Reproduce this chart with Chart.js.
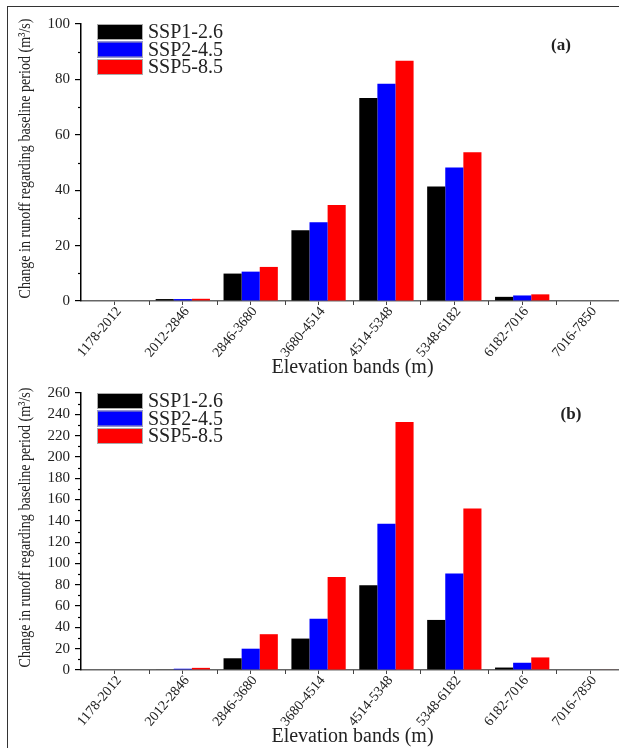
<!DOCTYPE html>
<html>
<head>
<meta charset="utf-8">
<script src="https://cdn.jsdelivr.net/npm/chart.js@4.4.1/dist/chart.umd.min.js"></script>
<style>
  html, body { margin: 0; padding: 0; background: #fff; }
  #page { position: relative; width: 619px; height: 748px; overflow: hidden; background: #fff; }
  #frame { position: absolute; left: 7px; top: 6px; width: 640px; height: 760px;
           border-top: 1.5px solid #333; border-left: 1.5px solid #333; }
  canvas { position: absolute; left: 0; }
  #panelA { top: 0; }
  #panelB { top: 369px; }
</style>
</head>
<body>
<div id="page">
  <div id="frame"></div>
  <canvas id="panelA" width="624" height="378"></canvas>
  <canvas id="panelB" width="624" height="379"></canvas>
</div>
<script>
// Elevation bands (m)
const bands = ['1178-2012', '2012-2846', '2846-3680', '3680-4514',
               '4514-5348', '5348-6182', '6182-7016', '7016-7850'];
const scenarios = ['SSP1-2.6', 'SSP2-4.5', 'SSP5-8.5'];
const scenarioColors = ['#000000', '#0000ff', '#ff0000'];

// (a) change in runoff vs. baseline (m3/s)
const ssp126A = [0, 0.7, 9.9, 25.5, 73.3, 41.3, 1.5, 0];
const ssp245A = [0, 0.7, 10.6, 28.4, 78.4, 48.2, 2.0, 0];
const ssp585A = [0, 0.8, 12.3, 34.7, 86.7, 53.7, 2.4, 0];

// (b) change in runoff vs. baseline (m3/s)
const ssp126B = [0, 0.5, 11.0, 29.5, 79.5, 47.0, 2.3, 0];
const ssp245B = [0, 1.2, 20.0, 48.2, 137.2, 90.5, 6.8, 0];
const ssp585B = [0, 2.0, 33.6, 87.3, 232.8, 151.6, 11.8, 0.6];

// y-axis ranges
const yMaxA = 100, yMaxB = 260, yStep = 20, yMinorStep = 10;

const yTitle = 'Change in runoff regarding baseline period (m\u00B3/s)';
const xTitle = 'Elevation bands (m)';
const SERIF = '"Liberation Serif", "Times New Roman", serif';
const LABEL_ANGLE = 50; // degrees, slanted band labels

// Draws slanted band labels, minor ticks, axis titles, the panel tag and the legend
const panelDecor = {
  id: 'panelDecor',
  afterDraw(chart, args, opts) {
    const { ctx, chartArea: ca, scales: { x, y } } = chart;
    ctx.save();

    // minor y ticks
    ctx.strokeStyle = '#000';
    ctx.lineWidth = 1.2;
    for (let v = yMinorStep; v < y.max; v += yStep) {
      const py = Math.round(y.getPixelForValue(v)) + 0.5;
      ctx.beginPath(); ctx.moveTo(ca.left - 3, py); ctx.lineTo(ca.left, py); ctx.stroke();
    }

    // x ticks at band boundaries
    const half = (x.getPixelForValue(1) - x.getPixelForValue(0)) / 2;
    ctx.strokeStyle = '#444';
    ctx.lineWidth = 1;
    for (let i = 1; i < bands.length; i++) {
      const px = Math.round(x.getPixelForValue(i) - half) + 0.5;
      ctx.beginPath(); ctx.moveTo(px, ca.bottom); ctx.lineTo(px, ca.bottom + 4); ctx.stroke();
    }

    // slanted band labels, ending just below each tick
    ctx.fillStyle = '#222';
    ctx.font = '14px ' + SERIF;
    ctx.textAlign = 'right';
    ctx.textBaseline = 'middle';
    chart.data.labels.forEach((lab, i) => {
      const px = x.getPixelForValue(i);
      ctx.save();
      ctx.translate(px + 4, ca.bottom + 8);
      ctx.rotate(-LABEL_ANGLE * Math.PI / 180);
      ctx.fillText(lab, 0, 0);
      ctx.restore();
    });

    // y title (slightly condensed serif)
    ctx.font = '17px ' + SERIF;
    ctx.textAlign = 'center';
    ctx.save();
    ctx.translate(26, (ca.top + ca.bottom) / 2 - 4);
    ctx.rotate(-Math.PI / 2);
    const w = ctx.measureText(yTitle).width;
    ctx.scale(Math.min(1, 280 / w), 1);
    ctx.fillText(yTitle, 0, 0);
    ctx.restore();

    // x title
    ctx.font = '20px ' + SERIF;
    ctx.fillText(xTitle, (ca.left + ca.right) / 2, 368);

    // panel tag
    ctx.font = 'bold 17px ' + SERIF;
    ctx.fillText(opts.tag, opts.tagX, ca.top + 22);

    // legend
    const ds = chart.data.datasets;
    ctx.font = '20px ' + SERIF;
    ctx.textAlign = 'left';
    for (let i = 0; i < ds.length; i++) {
      const by = ca.top + i * 17.5;
      ctx.fillStyle = ds[i].backgroundColor;
      ctx.fillRect(97, by, 46, 16);
      ctx.strokeStyle = '#aaa';
      ctx.lineWidth = 1;
      ctx.strokeRect(97.5, by + 0.5, 45, 15);
      ctx.fillStyle = '#222';
      ctx.fillText(ds[i].label, 148, by + 9);
    }
    ctx.restore();
  }
};

function makePanel(id, series, yMax, tag, tagX) {
  const canvas = document.getElementById(id);
  return new Chart(canvas, {
    type: 'bar',
    data: {
      labels: bands,
      datasets: series.map((vals, i) => ({
        label: scenarios[i],
        data: vals,
        backgroundColor: scenarioColors[i],
        borderWidth: 0,
        categoryPercentage: 0.8,
        barPercentage: 1.0
      }))
    },
    options: {
      responsive: false,
      animation: false,
      devicePixelRatio: 1,
      layout: { padding: { top: 24, left: 0, right: 0, bottom: 0 } },
      plugins: {
        legend: { display: false },
        tooltip: { enabled: false },
        panelDecor: { tag, tagX }
      },
      scales: {
        x: {
          offset: true,
          afterFit(scale) { scale.height = canvas.height - 24 - 277; },
          grid: { display: true, drawOnChartArea: false, drawTicks: true, tickLength: 4,
                  offset: false, color: '#444', lineWidth: 1 },
          border: { display: true, color: '#666', width: 1.5 },
          ticks: { display: false, autoSkip: false }
        },
        y: {
          min: 0, max: yMax,
          afterFit(scale) { scale.width = 81; },
          grid: { display: true, drawOnChartArea: false, drawTicks: true, tickLength: 6,
                  color: '#000', lineWidth: 1.2 },
          border: { display: true, color: '#000', width: 1.5 },
          ticks: {
            stepSize: yStep, padding: 5,
            color: '#222', font: { family: SERIF, size: 15 }
          }
        }
      }
    },
    plugins: [panelDecor]
  });
}

makePanel('panelA', [ssp126A, ssp245A, ssp585A], yMaxA, '(a)', 561);
makePanel('panelB', [ssp126B, ssp245B, ssp585B], yMaxB, '(b)', 571);
</script>
</body>
</html>
